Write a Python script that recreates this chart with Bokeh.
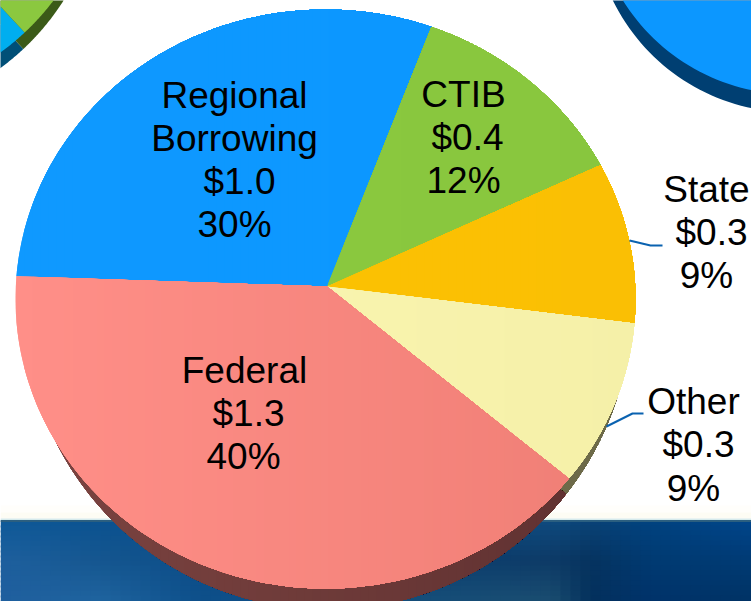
import numpy as np
from bokeh.plotting import figure
from bokeh.models import ColumnDataSource
from bokeh.core.properties import value
from bokeh.embed import file_html
from bokeh.resources import INLINE

# ---- data
categories = ["Regional Borrowing", "CTIB", "State", "Other", "Federal"]
amounts = [1.0, 0.4, 0.3, 0.3, 1.3]
percent_labels = ["30%", "12%", "9%", "9%", "40%"]
drawn_shares = [29.3, 11.8, 9.0, 9.3, 40.6]

# ---- styles and layout
top_left = ["#0f99ff", "#8cca3f", "#fdc300", "#fcf7b4", "#ff8f88"]
top_right = ["#0a96ff", "#88c63e", "#fabf04", "#f5f0a8", "#ef7e75"]
side_left = [None, None, None, "#76734f", "#7c4441"]
side_right = [None, None, None, "#6c6948", "#5e3030"]
START = 274.5
TOP = dict(cx=325.0, cy=298.5, rx=310.0, ry=289.5, apex=(326.5, 286.0))
SIDE = dict(cx=327.0, cy=305.0, rx=304.0, ry=304.0, apex=(327.0, 305.0))
X0, X1 = 16.0, 636.0

p = figure(width=751, height=601, x_range=(0, 751), y_range=(601, 0),
           output_backend="svg", toolbar_location=None, min_border=0,
           outline_line_color=None, background_fill_color="white",
           border_fill_color="white")
p.axis.visible = False
p.grid.visible = False


def hexrgb(c):
    return np.array([int(c[i:i + 2], 16) for i in (1, 3, 5)], float)


def mix(a, b, f):
    v = hexrgb(a) * (1 - f) + hexrgb(b) * f
    return "#%02x%02x%02x" % tuple(int(round(i)) for i in v)


def clip_right_of(xs, ys, xc):
    ox, oy = [], []
    n = len(xs)
    for i in range(n):
        x1, y1, x2, y2 = xs[i], ys[i], xs[(i + 1) % n], ys[(i + 1) % n]
        if x1 >= xc:
            ox.append(x1)
            oy.append(y1)
        if (x1 >= xc) != (x2 >= xc):
            f = (xc - x1) / (x2 - x1)
            ox.append(xc)
            oy.append(y1 + f * (y2 - y1))
    return ox, oy


def wedge(g, t0, t1):
    t = np.radians(np.linspace(t0, t1, 120))
    xs = [g["apex"][0]] + list(g["cx"] + g["rx"] * np.sin(t))
    ys = [g["apex"][1]] + list(g["cy"] - g["ry"] * np.cos(t))
    return xs, ys


def draw_slices(g, left, right, step=8):
    cum = START
    allx, ally, cols = [], [], []
    for share, cl, cr in zip(drawn_shares, left, right):
        t0, t1 = cum, cum + share * 3.6
        cum = t1
        if cl is None:
            continue
        xs, ys = wedge(g, t0, t1)
        xc = min(xs)
        first = True
        while xc < max(xs):
            cx_, cy_ = clip_right_of(xs, ys, xc) if not first else (xs, ys)
            first = False
            if len(cx_) > 2:
                allx.append(cx_)
                ally.append(cy_)
                f = min(1, max(0, (xc + step / 2 - X0) / (X1 - X0)))
                cols.append(mix(cl, cr, f))
            xc = (np.floor(xc / step) + 1) * step
    p.patches(allx, ally, fill_color=cols, line_color=None)


# ---- backdrop band
p.quad(left=0, right=751, top=505, bottom=512, fill_color="#fffefb", line_color=None)
p.quad(left=0, right=751, top=512, bottom=518, fill_color="#fdfcf4", line_color=None)
p.quad(left=0, right=751, top=518, bottom=520, fill_color="#d5eaec", line_color=None)
band_x = [0, 100, 200, 551, 590, 650, 751]
band_y = [521, 560, 601]
band_c = [["#0f5a98", "#0b5290", "#0a4d88", "#0e4a7e", "#0a4276", "#00427f", "#00458a"],
          ["#1e609e", "#15568f", "#0c4d88", "#0d3a66", "#06335f", "#003a72", "#003a74"],
          ["#1f5f9e", "#1f649f", "#0d4f8a", "#1a4d70", "#03305c", "#00326a", "#003264"]]
bl, br, bt, bb, bc = [], [], [], [], []
for y in np.arange(520, 601, 5):
    for x in np.arange(0, 751, 10):
        rows = []
        for r in range(3):
            rows.append(np.array([np.interp(x + 5, band_x, [hexrgb(c)[k] for c in band_c[r]]) for k in range(3)]))
        col = np.array([np.interp(y + 2.5, band_y, [rows[i][k] for i in range(3)]) for k in range(3)])
        bl.append(x); br.append(x + 12); bt.append(y); bb.append(y + 7)
        bc.append("#%02x%02x%02x" % tuple(int(round(v)) for v in col))
p.quad(left=bl, right=br, top=bt, bottom=bb, fill_color=bc, line_color=None)
p.quad(left=0, right=751, top=519.5, bottom=521.5, fill_color="#2b5f80", line_color=None)


# ---- neighbouring cropped pies
def disc(cx, cy, r, a0, a1):
    a = np.radians(np.linspace(a0, a1, 200))
    xs = list(cx + r * np.cos(a))
    ys = list(cy + r * np.sin(a))
    return ([cx] + xs, [cy] + ys)


for cfg in [(-148, -134, 250, 46.9, 85, "#004f77"), (-148, -134, 250, 5, 46.9, "#3b5a18"),
            (-148, -152, 252, 46.9, 85, "#00aeef"), (-148, -152, 252, 5, 46.9, "#8bc83f"),
            (792, -88, 200, 0, 360, "#003f72"), (792, -106, 200, 0, 360, "#0c97ff")]:
    xs, ys = disc(*cfg[:5])
    p.patch(xs, ys, fill_color=cfg[5], line_color=None)

# ---- main pie
draw_slices(SIDE, side_left, side_right)
draw_slices(TOP, top_left, top_right)

# ---- leader lines
p.line([629, 650, 662], [240, 245, 245], line_color="#0a62b0", line_width=2)
p.line([606, 632, 643], [426, 413, 413], line_color="#0a62b0", line_width=2)

# ---- labels
label_lines = {
    "Regional Borrowing": ["Regional", "Borrowing"],
    "CTIB": ["CTIB"], "State": ["State"], "Other": ["Other"], "Federal": ["Federal"],
}
label_x = {"Regional Borrowing": [234, 234, 239, 234], "CTIB": [463, 467, 463],
           "State": [706, 711, 706], "Other": [693, 698, 693], "Federal": [244, 248, 243]}
label_y = {"Regional Borrowing": [94.5, 137.5, 180.5, 223.5], "CTIB": [93.5, 136.5, 179.5],
           "State": [188.5, 231.5, 274.5], "Other": [400.5, 443.5, 487.5], "Federal": [369.5, 412.5, 455.5]}
tx, ty, tt = [], [], []
for cat, amt, pct in zip(categories, amounts, percent_labels):
    lines = label_lines[cat] + [f"${amt:.1f}", pct]
    tx += label_x[cat]
    ty += label_y[cat]
    tt += lines
src = ColumnDataSource(dict(x=tx, y=ty, t=tt))
p.text(x="x", y="y", text="t", source=src, text_font=value("Liberation Sans"),
       text_font_size=value("37px"), text_color="#000000", text_align="center",
       text_baseline="middle")

open("out.html", "w").write(file_html(p, INLINE))
